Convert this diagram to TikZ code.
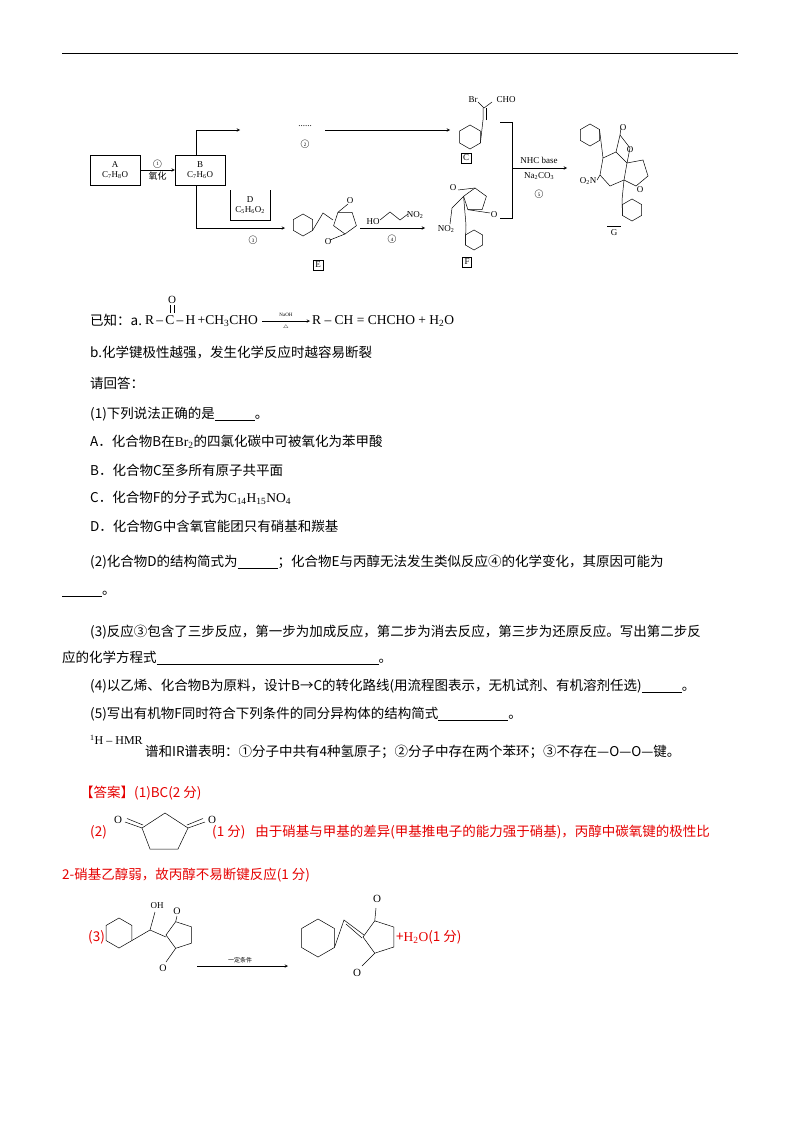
\documentclass[tikz,border=0pt]{standalone}
\usetikzlibrary{calc}
\usepackage{fontspec}
\setmainfont{Liberation Serif}
\newfontfamily\cjk{Noto Sans CJK SC}
\newcommand\lt[1]{{\rmfamily\fontspec{Liberation Serif}#1}}
\begin{document}
\begin{tikzpicture}[x=1pt,y=-1pt,
  txt/.style={anchor=west,inner sep=0,font=\cjk\fontsize{13.5}{15}\selectfont},
  red/.style={text=red!90!black},
  sm/.style={inner sep=1pt,font=\fontsize{9}{10}\selectfont},
  lbl/.style={draw,inner sep=2pt,font=\fontsize{9}{10}\selectfont},
  bond/.style={line width=0.5pt},
  arr/.style={-stealth,line width=0.5pt}]
\useasboundingbox (0,0) rectangle (800,1132);
\draw[line width=0.8pt] (62,53) -- (738,53);
% scheme
\node[lbl,align=center,minimum width=50,minimum height=30] (A) at (115,170) {A\\C\textsubscript{7}H\textsubscript{8}O};
\node[lbl,align=center,minimum width=50,minimum height=30] (B) at (200,170) {B\\C\textsubscript{7}H\textsubscript{6}O};
\draw[arr] (A) -- node[above=1pt,sm]{\textcircled{\tiny1}} node[below=1pt,sm,font=\cjk\fontsize{9}{10}\selectfont]{氧化} (B);
\coordinate (b1) at (196,130);
\draw[arr] (B.north -| b1) -- (b1) -- (240,130);
\node[sm] (dots) at (305,126) {......};
\node[sm] at (305,146) {\textcircled{\tiny2}};
\coordinate (c0) at (325,130); \coordinate (c1) at (450,130);
\draw[arr] (c0) -- (c1);
% C
\foreach \i in {0,...,5}{\coordinate (cc\i) at ($(470,137)+(30+60*\i:12)$);}
\draw[bond] (cc0)--(cc1)--(cc2)--(cc3)--(cc4)--(cc5)--cycle;
\draw[bond] (cc0) -- (483,120) -- (483,108);
\draw[bond] (486,120) -- (486,108);
\node[sm] at (473,100) {Br};
\node[sm] at (506,100) {CHO};
\draw[bond] (478,102) -- (484,108) -- (492,102);
\node[lbl] (C) at (466,158) {C};
% lower path
\coordinate (b2) at (196,228);
\draw[arr] (B.south -| b2) -- (b2) -- (285,228);
\draw[bond] (230,190) -- (230,220) -- (270,220) -- (270,190);
\node[sm,align=center] (D) at (250,205) {D\\C\textsubscript{5}H\textsubscript{6}O\textsubscript{2}};
\node[sm] at (253,242) {\textcircled{\tiny3}};
% E
\foreach \i in {0,...,5}{\coordinate (e\i) at ($(303,225)+(30+60*\i:11)$);}
\draw[bond] (e0)--(e1)--(e2)--(e3)--(e4)--(e5)--cycle;
\draw[bond] (e0) -- (323,213) -- (333,220);
\foreach \i in {0,...,4}{\coordinate (f\i) at ($(345,222)+(162+72*\i:12)$);}
\draw[bond] (f0)--(f1)--(f2)--(f3)--(f4)--cycle;
\draw[bond] (f1) -- (348,204); \node[sm] at (350,201) {O};
\draw[bond] (f4) -- (330,240); \node[sm] at (328,242) {O};
\node[lbl] (E) at (318,265) {E};
\draw[arr] (360,228) -- (425,228);
\node[sm] at (373,222) {HO};
\draw[bond] (380,220) -- (390,212) -- (400,220) -- (408,214);
\node[sm] at (415,215) {NO\textsubscript{2}};
\node[sm] at (392,241) {\textcircled{\tiny4}};
% F
\foreach \i in {0,...,4}{\coordinate (g\i) at ($(475,200)+(198+72*\i:12)$);}
\draw[bond] (g0)--(g1)--(g2)--(g3)--(g4)--cycle;
\draw[bond] (g1) -- (458,190); \node[sm] at (453,188) {O};
\draw[bond] (g4) -- (490,213); \node[sm] at (494,215) {O};
\draw[bond] (g0) -- (452,208) -- (450,224);
\node[sm] at (446,229) {NO\textsubscript{2}};
\draw[bond] (g0) -- (466,225);
\foreach \i in {0,...,5}{\coordinate (h\i) at ($(474,240)+(30+60*\i:10)$);}
\draw[bond] (h0)--(h1)--(h2)--(h3)--(h4)--(h5)--cycle;
\draw[bond] (466,225) -- (h2);
\node[lbl] (F) at (467,262) {F};
% bracket
\draw[bond] (500,122) -- (512,122) -- (512,218) -- (500,218);
\draw[arr] (512,168) -- (567,168);
\node[sm] at (539,160) {NHC base};
\node[sm] at (539,176) {Na\textsubscript{2}CO\textsubscript{3}};
\node[sm] at (539,196) {\textcircled{\tiny5}};
% G
\foreach \i in {0,...,5}{\coordinate (k\i) at ($(590,135)+(30+60*\i:11)$);}
\draw[bond] (k0)--(k1)--(k2)--(k3)--(k4)--(k5)--cycle;
\draw[bond] (k5) -- (603,158) -- (616,152) -- (627,163) -- (624,180) -- (610,186) -- (600,175) -- (603,158);
\draw[bond] (616,152) -- (620,135) -- (630,148) -- (627,163);
\draw[bond] (620,135) -- (621,128); \node[sm] at (623,128) {O};
\node[sm] at (630,150) {O};
\draw[bond] (627,163) -- (643,160) -- (648,176) -- (636,186) -- (624,180);
\node[sm] at (640,190) {O};
\node[sm] at (588,181) {O\textsubscript{2}N};
\draw[bond] (600,175) -- (597,180);
\draw[bond] (624,180) -- (622,200);
\foreach \i in {0,...,5}{\coordinate (m\i) at ($(632,210)+(30+60*\i:11)$);}
\draw[bond] (m0)--(m1)--(m2)--(m3)--(m4)--(m5)--cycle;
\draw[bond] (622,200) -- (m2);
\node[sm] (G) at (614,233) {G};
\draw[bond] (607,226) -- (621,226);
% text
\node[txt] at (90,320) {已知：a.};
\node[sm,font=\fontsize{11}{12}\selectfont] at (172,300) {O};
\draw[bond] (170,305) -- (170,313); \draw[bond] (174,305) -- (174,313);
\node[anchor=west,inner sep=0,font=\fontsize{13.5}{15}\selectfont] at (145,321) {R\,--\,C\,--\,H\,+CH\textsubscript{3}CHO};
\draw[arr] (262,321) -- (310,321);
\node[font=\fontsize{5}{6}\selectfont] at (286,315) {NaOH};
\node[font=\fontsize{5}{6}\selectfont] at (286,327) {$\triangle$};
\node[anchor=west,inner sep=0,font=\fontsize{13.5}{15}\selectfont] at (312,321) {R -- CH = CHCHO + H\textsubscript{2}O};
\node[txt] at (90,352) {b.化学键极性越强，发生化学反应时越容易断裂};
\node[txt] at (90,383) {请回答：};
\node[txt] at (90,414) {(1)下列说法正确的是\underline{\hspace{40pt}}。};
\node[txt] at (90,442) {A．化合物B在\lt{Br\textsubscript{2}}的四氯化碳中可被氧化为苯甲酸};
\node[txt] at (90,470) {B．化合物C至多所有原子共平面};
\node[txt] at (90,498) {C．化合物F的分子式为\lt{C\textsubscript{14}H\textsubscript{15}NO\textsubscript{4}}};
\node[txt] at (90,526) {D．化合物G中含氧官能团只有硝基和羰基};
\node[txt] at (90,562) {(2)化合物D的结构简式为\underline{\hspace{40pt}}；化合物E与丙醇无法发生类似反应④的化学变化，其原因可能为};
\node[txt] at (62,594) {\underline{\hspace{40pt}}。};
\node[txt] at (90,632) {(3)反应③包含了三步反应，第一步为加成反应，第二步为消去反应，第三步为还原反应。写出第二步反};
\node[txt] at (62,658) {应的化学方程式\underline{\hspace{222pt}}。};
\node[txt] at (90,686) {(4)以乙烯、化合物B为原料，设计B→C的转化路线(用流程图表示，无机试剂、有机溶剂任选)\underline{\hspace{40pt}}。};
\node[txt] at (90,714) {(5)写出有机物F同时符合下列条件的同分异构体的结构简式\underline{\hspace{70pt}}。};
\node[anchor=west,inner sep=0,font=\fontsize{12}{14}\selectfont] at (90,740) {\textsuperscript{1}H -- HMR};
\node[txt] at (145,752) {谱和IR谱表明：①分子中共有4种氢原子；②分子中存在两个苯环；③不存在—O—O—键。};
% answers
\node[txt,red] at (80,793) {【答案】(1)BC(2 分)};
\node[txt,red] at (90,832) {(2)};
\coordinate (r1) at (165,813); \coordinate (r2) at (142,828); \coordinate (r3) at (188,828);
\coordinate (r4) at (150,849); \coordinate (r5) at (178,849);
\draw[bond] (r2) -- (r1) -- (r3) -- (r5) -- (r4) -- cycle;
\draw[bond] (r2) -- (125,822); \draw[bond] (143,825) -- (127,818.5);
\node[sm,font=\fontsize{11}{12}\selectfont] at (118,820) {O};
\draw[bond] (r3) -- (205,822); \draw[bond] (187,825) -- (203,818.5);
\node[sm,font=\fontsize{11}{12}\selectfont] at (212,820) {O};
\node[txt,red] at (212,832) {(1 分)\hspace{10pt}由于硝基与甲基的差异(甲基推电子的能力强于硝基)，丙醇中碳氧键的极性比};
\node[txt,red] at (62,875) {2-硝基乙醇弱，故丙醇不易断键反应(1 分)};
\node[txt,red] at (88,937) {(3)};
% reactant
\foreach \i in {0,...,5}{\coordinate (p\i) at ($(119,933)+(30+60*\i:15)$);}
\draw[bond] (p0)--(p1)--(p2)--(p3)--(p4)--(p5)--cycle;
\draw[bond] (p0) -- (150,930) -- (155,912);
\node[sm,font=\fontsize{9}{10}\selectfont] at (157,906) {OH};
\draw[bond] (150,930) -- (166,937);
\foreach \i in {0,...,4}{\coordinate (q\i) at ($(180,935)+(180+72*\i:14)$);}
\draw[bond] (q0)--(q1)--(q2)--(q3)--(q4)--cycle;
\draw[bond] (q1) -- (177,916); \node[sm,font=\fontsize{10}{11}\selectfont] at (177,911) {O};
\draw[bond] (q4) -- (166,962); \node[sm,font=\fontsize{10}{11}\selectfont] at (163,968) {O};
\draw[arr] (197,966) -- (288,966);
\node[font=\cjk\fontsize{6}{7}\selectfont] at (240,960) {一定条件};
% product
\foreach \i in {0,...,5}{\coordinate (s\i) at ($(318,938)+(30+60*\i:19)$);}
\draw[bond] (s0)--(s1)--(s2)--(s3)--(s4)--(s5)--cycle;
\draw[bond] (s0) -- (344,920) -- (364,935);
\draw[bond] (346,924) -- (362,938);
\foreach \i in {0,...,4}{\coordinate (t\i) at ($(380,937)+(180+72*\i:17)$);}
\draw[bond] (t0)--(t1)--(t2)--(t3)--(t4)--cycle;
\draw[bond] (t1) -- (376,908); \node[sm,font=\fontsize{11}{12}\selectfont] at (377,899) {O};
\draw[bond] (t4) -- (362,966); \node[sm,font=\fontsize{11}{12}\selectfont] at (357,973) {O};
\node[txt,red] at (396,937) {+\lt{H\textsubscript{2}O}(1 分)};
\end{tikzpicture}
\end{document}
